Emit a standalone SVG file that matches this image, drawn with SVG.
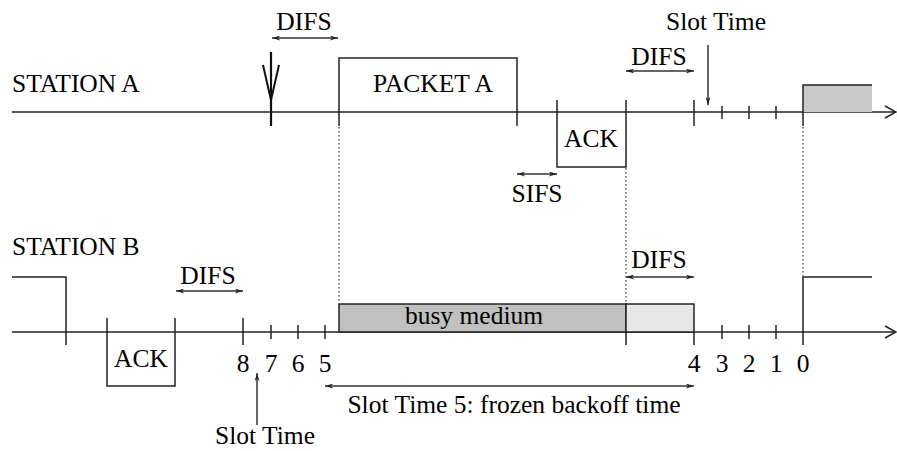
<svg xmlns="http://www.w3.org/2000/svg" width="897" height="451" viewBox="0 0 897 451">
<defs>
<marker id="ah" viewBox="0 0 10 6" markerWidth="9" markerHeight="5" refX="10" refY="3" orient="auto-start-reverse" markerUnits="userSpaceOnUse">
<path d="M0,0 L10,3 L0,6 L3,3 z" fill="#222"/>
</marker>
<style>
.ln{stroke:#222;stroke-width:1.5;fill:none}
.tk{stroke:#222;stroke-width:1.5}
.dot{stroke:#444;stroke-width:1.3;stroke-dasharray:1.5 2.5;fill:none}
.ar{stroke:#333;stroke-width:1.5;fill:none;marker-end:url(#ah)}
.dar{stroke:#333;stroke-width:1.5;fill:none;marker-start:url(#ah);marker-end:url(#ah)}
text{font-family:"Liberation Serif","Times New Roman",serif;font-size:25.5px;fill:#000}
.c{text-anchor:middle}
</style>
</defs>
<rect width="897" height="451" fill="#fff"/>

<g id="stationA">
<text x="12" y="92">STATION A</text>
<line class="ln" x1="12" y1="112" x2="895" y2="112"/>
<polyline class="ln" points="885,106 896,112 885,118"/>
</g>

<g id="arrivalA">
<line stroke="#111" stroke-width="2.2" x1="271" y1="52" x2="271" y2="126"/>
<polyline stroke="#111" stroke-width="2" fill="none" points="263,65 271,100 279,65"/>
</g>

<g id="packetA">
<polyline class="ln" points="339,126 339,58 517,58 517,126"/>
<text class="c" x="433" y="92">PACKET A</text>
</g>

<g id="ackA">
<polyline class="ln" points="557,100 557,167 626,167 626,100"/>
<text class="c" x="591" y="147">ACK</text>
</g>

<g id="backoffA">
<line class="tk" x1="694" y1="100" x2="694" y2="126"/>
<line class="tk" x1="722" y1="106" x2="722" y2="119"/>
<line class="tk" x1="749" y1="106" x2="749" y2="119"/>
<line class="tk" x1="776" y1="106" x2="776" y2="119"/>
</g>

<g id="nextA">
<rect x="803" y="85" width="69" height="27" fill="#c8c8c8"/>
<polyline class="ln" points="803,126 803,85 872,85"/>
</g>

<g id="stationB">
<text x="12" y="255">STATION B</text>
<line class="ln" x1="12" y1="332" x2="895" y2="332"/>
<polyline class="ln" points="885,326 896,332 885,338"/>
<polyline class="ln" points="12,277 66,277 66,345"/>
</g>

<g id="ackB">
<polyline class="ln" points="107,318 107,386 175,386 175,318"/>
<text class="c" x="141" y="367">ACK</text>
</g>

<g id="backoffB1">
<line class="tk" x1="243" y1="318" x2="243" y2="345"/>
<line class="tk" x1="271" y1="325" x2="271" y2="339"/>
<line class="tk" x1="298" y1="325" x2="298" y2="339"/>
<line class="tk" x1="325" y1="325" x2="325" y2="339"/>
<text class="c" x="243" y="372">8</text>
<text class="c" x="271" y="372">7</text>
<text class="c" x="298" y="372">6</text>
<text class="c" x="325" y="372">5</text>
</g>

<g id="busy">
<rect x="339" y="304" width="287" height="28" fill="#c0c0c0" stroke="#222" stroke-width="1.5"/>
<text class="c" x="474" y="324">busy medium</text>
</g>

<g id="difsBox">
<rect x="626" y="304" width="68" height="28" fill="#e6e6e6" stroke="#222" stroke-width="1.5"/>
<line class="tk" x1="626" y1="332" x2="626" y2="345"/>
<line class="tk" x1="694" y1="332" x2="694" y2="345"/>
</g>

<g id="backoffB2">
<line class="tk" x1="722" y1="325" x2="722" y2="339"/>
<line class="tk" x1="749" y1="325" x2="749" y2="339"/>
<line class="tk" x1="776" y1="325" x2="776" y2="339"/>
<text class="c" x="694" y="372">4</text>
<text class="c" x="722" y="372">3</text>
<text class="c" x="749" y="372">2</text>
<text class="c" x="776" y="372">1</text>
<text class="c" x="803" y="372">0</text>
</g>

<g id="txB">
<polyline class="ln" points="803,345 803,277 872,277"/>
</g>

<g id="connectors">
<line class="dot" x1="339" y1="127" x2="339" y2="303"/>
<line class="dot" x1="626" y1="168" x2="626" y2="303"/>
<line class="dot" x1="803" y1="127" x2="803" y2="276"/>
<line class="dar" x1="272" y1="38" x2="338" y2="38"/>
<line class="dar" x1="517" y1="174" x2="557" y2="174"/>
<line class="dar" x1="626" y1="71" x2="694" y2="71"/>
<line class="ar" x1="708" y1="45" x2="708" y2="105"/>
<line class="dar" x1="176" y1="291" x2="243" y2="291"/>
<line class="dar" x1="626" y1="277" x2="694" y2="277"/>
<line class="ar" x1="257" y1="425" x2="257" y2="373"/>
<line class="dar" x1="325" y1="386" x2="694" y2="386"/>
</g>

<g id="labels">
<text class="c" x="304" y="30">DIFS</text>
<text class="c" x="537" y="202">SIFS</text>
<text class="c" x="659" y="65">DIFS</text>
<text class="c" x="716" y="30">Slot Time</text>
<text class="c" x="208" y="284">DIFS</text>
<text class="c" x="659" y="268">DIFS</text>
<text class="c" x="265" y="444">Slot Time</text>
<text class="c" x="514" y="413">Slot Time 5: frozen backoff time</text>
</g>
</svg>
